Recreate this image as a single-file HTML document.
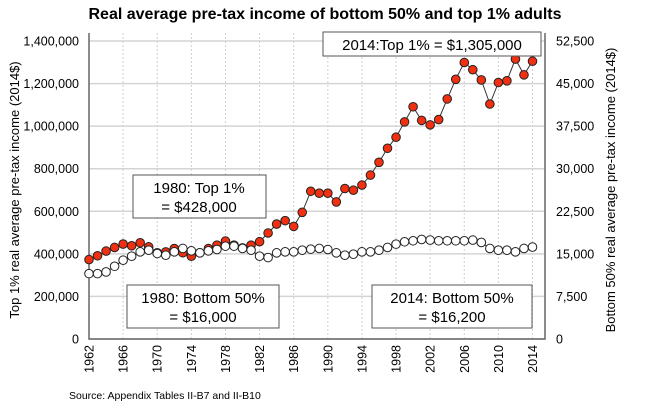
<!DOCTYPE html>
<html><head><meta charset="utf-8"><style>
body{margin:0;background:#fff;}
svg{display:block;font-family:"Liberation Sans",Arial,sans-serif;}
</style></head><body>
<svg id="chart" width="645" height="414" viewBox="0 0 645 414" xmlns="http://www.w3.org/2000/svg">
<text x="325" y="19" text-anchor="middle" font-size="16" font-weight="bold">Real average pre-tax income of bottom 50% and top 1% adults</text>
<g id="grid"></g>
<g id="axes"></g>
<g id="series"></g>
<text transform="translate(19,190) rotate(-90)" text-anchor="middle" font-size="13">Top 1% real average pre-tax income (2014$)</text>
<text transform="translate(615,190) rotate(-90)" text-anchor="middle" font-size="13">Bottom 50% real average pre-tax income (2014$)</text>
<g>
<rect x="323" y="32" width="218" height="24" fill="#fff" stroke="#555"/>
<text x="432" y="50" text-anchor="middle" font-size="15">2014:Top 1% = $1,305,000</text></g>
<g>
<rect x="133" y="175" width="133" height="43" fill="#fff" stroke="#555"/>
<text x="199" y="193" text-anchor="middle" font-size="15">1980: Top 1%</text>
<text x="199" y="212" text-anchor="middle" font-size="15">= $428,000</text></g>
<g>
<rect x="127" y="285" width="152" height="43" fill="#fff" stroke="#555"/>
<text x="203" y="303" text-anchor="middle" font-size="15">1980: Bottom 50%</text>
<text x="203" y="322" text-anchor="middle" font-size="15">= $16,000</text></g>
<g>
<rect x="372" y="285" width="160" height="43" fill="#fff" stroke="#555"/>
<text x="452" y="303" text-anchor="middle" font-size="15">2014: Bottom 50%</text>
<text x="452" y="322" text-anchor="middle" font-size="15">= $16,200</text></g>
<text x="69" y="399" font-size="10.5">Source: Appendix Tables II-B7 and II-B10</text>
</svg>
<script>
const years = [];
for (let y = 1962; y <= 2014; y++) years.push(y);
const top1 = [373000,391000,413000,430000,446000,438000,452000,433000,405000,409000,425000,405000,389000,405000,425000,441000,460000,441000,428000,441000,457000,498000,540000,556000,529000,595000,694000,685000,685000,644000,707000,699000,723000,770000,830000,896000,948000,1020000,1091000,1027000,1006000,1031000,1128000,1220000,1299000,1265000,1217000,1104000,1205000,1213000,1315000,1241000,1305000];
const bottom50 = [11517,11517,11812,12816,13879,14587,15356,15651,15060,14765,15356,15946,15533,15178,15533,15769,16360,16360,15946,15651,14587,14351,15178,15356,15356,15651,15828,15946,15769,15178,14765,14942,15356,15356,15651,16124,16714,17127,17304,17541,17422,17304,17304,17304,17304,17422,17009,15946,15651,15651,15356,15946,16200];
const leftTicks = [0,200000,400000,600000,800000,1000000,1200000,1400000];
const rightTicks = [0,7500,15000,22500,30000,37500,45000,52500];
const xTicks = [1962,1966,1970,1974,1978,1982,1986,1990,1994,1998,2002,2006,2010,2014];

const NS = "http://www.w3.org/2000/svg";
const L = 89, R = 545, T = 33, B = 339;
const x = yr => 89 + (yr - 1962) * (532.5 - 89) / 52;
const yL = v => B - v * (B - 41) / 1400000;
const yR = v => B - v * (B - 41) / 52500;
function mk(tag, attrs, parent){const e=document.createElementNS(NS,tag);for(const k in attrs)e.setAttribute(k,attrs[k]);parent.appendChild(e);return e;}
const grid = document.getElementById('grid'), axes = document.getElementById('axes'), series = document.getElementById('series');

leftTicks.forEach((v,i)=>{
  const gl = mk('line',{x1:L,x2:R,y1:yL(v),y2:yL(v),stroke:'#d4d4d4','stroke-width':1.5},grid);
  
  
  const t = mk('text',{x:79,y:yL(v)+4.5,'text-anchor':'end','font-size':12.5},axes);
  t.textContent = v.toLocaleString('en-US');
  
  
});
rightTicks.forEach(v=>{
  const t = mk('text',{x:556,y:yR(v)+4.5,'font-size':12.5},axes);
  t.textContent = v.toLocaleString('en-US');
  
  
});
xTicks.forEach(yr=>{
  if (yr !== 1962) {
    const gl = mk('line',{x1:x(yr),x2:x(yr),y1:T,y2:B,stroke:'#d0d0d0','stroke-dasharray':'2,2'},grid);
    
    
  }
  const t = mk('text',{transform:`translate(${x(yr)+4.5},${345}) rotate(-90)`,'text-anchor':'end','font-size':12.5},axes);
  t.textContent = yr;
  
  
});
const ax = mk('path',{d:`M${L},${T}V${B}H${R}V${T}`,fill:'none',stroke:'#666','stroke-width':1.5},axes);



function drawSeries(vals, yf, fill, name){
  const d = vals.map((v,i)=>(i?'L':'M')+x(years[i]).toFixed(1)+','+yf(v).toFixed(1)).join('');
  const p = mk('path',{d:d,fill:'none',stroke:'#333','stroke-width':1},series);
  
  
  vals.forEach((v,i)=>{
    const c = mk('circle',{cx:x(years[i]),cy:yf(v),r:4.3,fill:fill,stroke:'#222','stroke-width':1},series);
    
    
  });
}
drawSeries(top1, yL, '#f03010', 'top1');
drawSeries(bottom50, yR, '#fff', 'bottom50');
</script>
</body></html>
